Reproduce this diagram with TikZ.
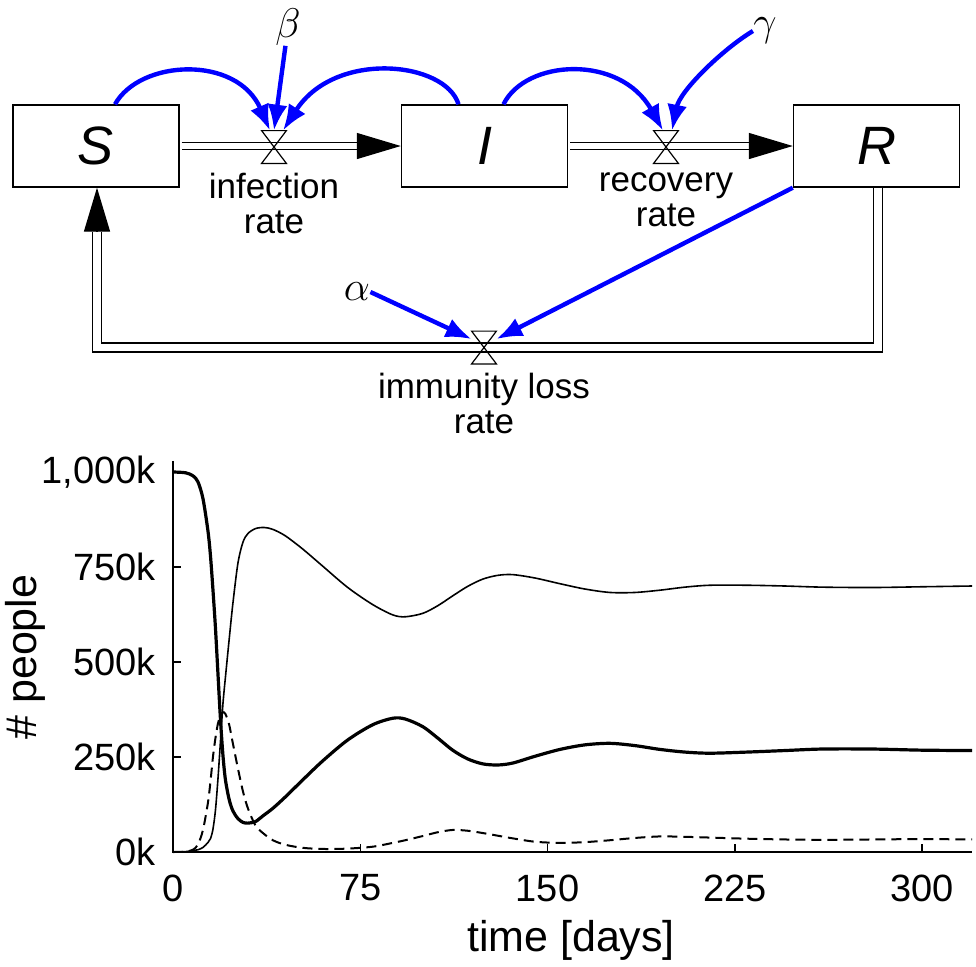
\documentclass[tikz,border=0pt]{standalone}
\usepackage{fontspec}
\setmainfont{Liberation Sans}
\usetikzlibrary{arrows.meta,positioning}

\begin{document}
\begin{tikzpicture}[x=0.5pt, y=-0.5pt, node distance=4.5pt,
  every node/.style={font=\fontsize{17.5}{17.5}\selectfont},
  stock/.style={draw, line width=0.7pt, minimum width=83pt, minimum height=41pt, inner sep=0pt, font=\fontsize{27}{27}\selectfont\itshape},
  valve/.style={minimum width=12pt, minimum height=16pt, inner sep=0pt},
  pipe/.style={double, double distance=#1, line width=0.7pt},
  pipe/.default=2.6pt,
  flowtip/.style={-{Triangle[length=22pt,width=13pt]}, line width=0.7pt},
  info/.style={blue, line width=2.2pt, -{Latex[length=13pt,width=10pt]}},
  greek/.style={inner sep=0pt, font=\fontsize{22}{22}\selectfont},
  ratelabel/.style={align=center, inner sep=0pt},
  ticklabel/.style={font=\fontsize{19}{19}\selectfont},
  axislabel/.style={font=\fontsize{21.5}{21.5}\selectfont}]
\useasboundingbox (0,0) rectangle (976,966);

\node (S) [stock] at (96,146) {S};
\node (I) [stock] at (484.5,146) {I};
\node (R) [stock] at (876.5,146) {R};
\node (vinf) [valve] at (274,147) {};
\node (vrec) [valve] at (666,147) {};
\node (vimm) [valve] at (484,347.5) {};
\node (infl) [ratelabel, below=of vinf] {infection\\rate};
\node (recl) [ratelabel, below=of vrec] {recovery\\rate};
\node (imml) [ratelabel, below=of vimm] {immunity loss\\rate};
\node (beta) [greek] at (288,27) {$\beta$};
\node (gamma) [greek] at (765,31) {$\gamma$};
\node (alpha) [greek] at (357,292) {$\alpha$};

\draw[pipe, shorten <=1pt, shorten >=22pt] (S) -- (I);
\draw[flowtip] ([xshift=-22pt]I.west) -- (I.west);
\draw[pipe, shorten <=1pt, shorten >=22pt] (I) -- (R);
\draw[flowtip] ([xshift=-22pt]R.west) -- (R.west);
\draw[pipe=3.8pt, shorten >=22pt] ([xshift=0.75pt]R.south) |- (vimm.center) -| ([xshift=0.5pt]S.south);
\draw[flowtip] ([xshift=0.5pt, yshift=-22pt]S.south) -- ([xshift=0.5pt]S.south);
\foreach \v in {vinf,vrec,vimm}
  \draw[line width=0.6pt] (\v.north west) -- (\v.north east) -- (\v.south west) -- (\v.south east) -- cycle;

\draw[info] ([xshift=9.5pt]S.north) .. controls +(25,-45) and +(-33,-76) .. ([xshift=-2pt]vinf.north);
\draw[info] (beta) -- (vinf.north);
\draw[info] ([xshift=-13pt]I.north) .. controls +(-13,-43) and +(52,-81) .. ([xshift=4.5pt]vinf.north);
\draw[info] ([xshift=9.5pt]I.north) .. controls +(22,-45) and +(-43,-77) .. ([xshift=-1.5pt]vrec.north);
\draw[info] (gamma.west) .. controls +(-30,18) and +(8,-40) .. ([xshift=3pt]vrec.north);
\draw[info] (alpha.east) -- ([yshift=-4pt]vimm.north west);
\draw[info] (R.south west) -- ([yshift=-4pt]vimm.north east);

\begin{scope}[shift={(173,852)}, x=1.2485pt, y=0.19pt]
\draw[line width=0.7pt] (0,1029) -- (0,0) -- (320,0);
\foreach \v in {250,500,750,1000}
  \draw[line width=0.7pt] (0,\v) -- ++(4pt,0pt);
\foreach \t in {75,150,225,300}
  \draw[line width=0.7pt] (\t,0) -- ++(0pt,4pt);
\foreach \v/\l in {0/0k,250/250k,500/500k,750/750k,1000/{1,000k}}
  \node (ylab\v) [ticklabel, anchor=east, xshift=-5pt] at (0,\v) {\l};
\foreach \t in {0,75,150,225,300}
  \node (xlab\t) [ticklabel, yshift=-18pt] at (\t,0) {\t};
\node (ylabel) [axislabel, rotate=90] at (-59.3,513) {\# people};
\node (xlabel) [axislabel] at (159.4,-231.6) {time [days]};

\draw[line width=1.6pt] plot[smooth, tension=0.5] coordinates {(0,1000) (5,998) (8,990) (10,974) (12,930) (14,845) (15,780) (16,690) (17,590) (18,470) (19,350) (20,255) (21,190) (22.5,138) (24,108) (26,88) (28,78) (30,76) (33,80) (36,95) (40,115) (45,145) (52,190) (60,240) (70,295) (80,335) (88,352) (93,350) (100,330) (106,300) (112,268) (118,245) (124,232) (130,229) (136,234) (145,252) (155,270) (165,282) (175,286) (185,280) (195,270) (205,263) (215,260) (230,263) (245,267) (260,271) (280,271) (300,268) (320,267)};
\draw[line width=1pt, dash pattern=on 5pt off 3pt] plot[smooth, tension=0.5] coordinates {(0,0) (5,1) (8,6) (10,20) (12,58) (14,130) (15,185) (16,250) (17,300) (18,338) (19,360) (20,368) (21,363) (22.5,335) (24,285) (26,220) (28,160) (30,115) (33,70) (36,50) (40,31) (45,19) (52,11) (60,8) (70,9) (80,14) (88,24) (93,31) (100,42) (106,52) (112,58) (118,56) (124,50) (130,43) (136,36) (145,27) (155,24) (165,26) (175,31) (185,37) (195,41) (205,40) (215,38) (230,35) (245,33) (260,32) (280,33) (300,34) (320,33)};
\draw[line width=0.8pt] plot[smooth, tension=0.5] coordinates {(0,0) (5,1) (8,4) (10,6) (12,12) (14,25) (15,35) (16,60) (17,110) (18,192) (19,290) (20,390) (21,460) (22.5,560) (24,655) (26,760) (28,815) (30,838) (33,851) (36.5,854) (40,849) (45,832) (52,797) (60,752) (70,696) (80,651) (88,624) (93,619) (100,628) (106,648) (112,674) (118,699) (124,718) (130,728) (136,730) (145,721) (155,706) (165,692) (175,683) (185,683) (195,689) (205,697) (215,702) (230,702) (245,700) (260,697) (280,696) (300,698) (320,700)};
\end{scope}
\end{tikzpicture}
\end{document}
